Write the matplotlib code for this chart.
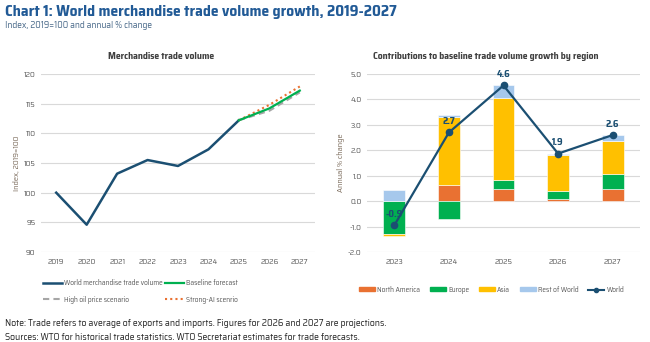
import numpy as np
import matplotlib; matplotlib.use("Agg")
import matplotlib.pyplot as plt
from matplotlib.lines import Line2D
from matplotlib.patches import Patch

plt.rcParams["font.family"] = ["Saira SemiCondensed", "DejaVu Sans"]

# ---------- data ----------
years = ["2019", "2020", "2021", "2022", "2023", "2024", "2025", "2026", "2027"]
world_vol = [100.0, 94.6, 103.2, 105.5, 104.5, 107.3, 112.2]
fc_years = ["2025", "2026", "2027"]
baseline = [112.2, 114.2, 117.2]
high_oil = [112.2, 113.8, 116.9]
strong_ai = [112.2, 114.8, 117.9]

reg_years = ["2023", "2024", "2025", "2026", "2027"]
north_america = [0.0, 0.62, 0.47, 0.10, 0.48]
europe = [-1.30, -0.70, 0.38, 0.28, 0.57]
asia = [-0.08, 2.68, 3.20, 1.42, 1.33]
rest_world = [0.42, 0.10, 0.50, 0.06, 0.22]
world = [-0.95, 2.7, 4.55, 1.87, 2.6]
world_lbl = ["-0.9", "2.7", "4.6", "1.9", "2.6"]

NAVY = "#1b4f72"; GREEN = "#00b050"; ORANGE = "#e97132"; GOLD = "#ffc000"
LBLUE = "#a6c8ec"; GRAY = "#a6a6a6"; TICK = "#595959"; GRID = "#d9d9d9"

fig = plt.figure(figsize=(6.5, 3.42), dpi=100)
H = 342.0
def ax_at(l, r, t, b): return fig.add_axes([l/650, 1-b/H, (r-l)/650, (b-t)/H])

fig.text(5/650, 1-12/H, "Chart 1: World merchandise trade volume growth, 2019-2027",
         color="#215a96", fontsize=11.2, fontweight="bold", va="center")
fig.text(5/650, 1-26/H, "Index, 2019=100 and annual % change", color="#4a6a8a", fontsize=6.8, va="center")

def style(ax):
    for s in ax.spines.values(): s.set_visible(False)
    ax.yaxis.grid(True, color=GRID, lw=0.8); ax.set_axisbelow(True)
    ax.tick_params(length=0, colors=TICK, labelsize=6, pad=4)

# ---------- left panel ----------
ax = ax_at(41, 315, 74, 252)
style(ax)
x = np.arange(len(years))
ax.plot(x[:len(world_vol)], world_vol, color=NAVY, lw=1.8)
xf = x[len(world_vol)-1:]
ax.plot(xf, high_oil, color=GRAY, lw=1.5, ls=(0, (3, 2)))
ax.plot(xf, strong_ai, color=ORANGE, lw=1.5, ls=(0, (1, 1.5)))
ax.plot(xf, baseline, color=GREEN, lw=1.6)
ax.set_xlim(-0.5, len(years)-0.5); ax.set_ylim(90, 120)
ax.set_xticks(x); ax.set_xticklabels(years)
ax.set_yticks(range(90, 121, 5))
ax.set_ylabel("Index, 2019=100", color="#7a6a5a", fontsize=6, labelpad=2)
ax.set_title("Merchandise trade volume", fontsize=7, color="#404040", fontweight="bold", pad=11, x=0.44)

h_left = [Line2D([], [], color=NAVY, lw=1.8), Line2D([], [], color=GREEN, lw=1.6),
          Line2D([], [], color=GRAY, lw=1.5, ls=(0, (3, 2))), Line2D([], [], color=ORANGE, lw=1.5, ls=(0, (1, 1.5)))]
l_left = ["World merchandise trade volume", "Baseline forecast", "High oil price scenario", "Strong-AI scenrio"]
fig.legend(h_left[0::2] + h_left[1::2], l_left[0::2] + l_left[1::2], ncol=2, frameon=False, fontsize=5.3,
           loc="center left", bbox_to_anchor=(36/650, 1-291.5/H), handlelength=2.6, columnspacing=0.3,
           handletextpad=0.3, labelspacing=1.1, labelcolor=TICK)

# ---------- right panel ----------
ax2 = ax_at(367, 640, 74, 252)
style(ax2)
xr = np.arange(len(reg_years)); w = 0.4
na = np.array(north_america); eu = np.array(europe); asi = np.array(asia); rw = np.array(rest_world)
series = [(na, ORANGE), (eu, GREEN), (asi, GOLD), (rw, LBLUE)]
pos = np.zeros(len(xr)); neg = np.zeros(len(xr))
for vals, c in series:
    base = np.where(vals >= 0, pos, neg)
    ax2.bar(xr, vals, w, bottom=base, color=c, edgecolor="white", lw=0.4)
    pos = pos + np.clip(vals, 0, None); neg = neg + np.clip(vals, None, 0)
ax2.plot(xr, world, color=NAVY, lw=1.6, marker="o", ms=4.5)
for xi, v, t in zip(xr, world, world_lbl):
    ax2.text(xi, v + 0.43, t, ha="center", va="center", color=NAVY, fontsize=7, fontweight="bold")
ax2.set_xlim(-0.5, len(reg_years)-0.5); ax2.set_ylim(-2, 5)
ax2.set_xticks(xr); ax2.set_xticklabels(reg_years)
ax2.set_yticks(range(-2, 6)); ax2.set_yticklabels([f"{v:.1f}" for v in range(-2, 6)])
ax2.set_ylabel("Annual % change", color="#7a6a5a", fontsize=6, labelpad=2)
ax2.set_title("Contributions to baseline trade volume growth by region", fontsize=7, color="#404040",
              fontweight="bold", pad=11, x=0.434)

h_right = [Patch(color=ORANGE), Patch(color=GREEN), Patch(color=GOLD), Patch(color=LBLUE),
           Line2D([], [], color=NAVY, lw=1.5, marker="o", ms=3)]
fig.legend(h_right, ["North America", "Europe", "Asia", "Rest of World", "World"], ncol=5, frameon=False,
           fontsize=5.3, loc="center left", bbox_to_anchor=(352/650, 1-290/H), handlelength=2.2,
           handleheight=0.5, columnspacing=1.3, handletextpad=0.3, labelcolor=TICK)

fig.text(5/650, 1-324/H, "Note: Trade refers to average of exports and imports. Figures for 2026 and 2027 are projections.",
         fontsize=7, color="#262626", va="center")
fig.text(5/650, 1-337/H, "Sources: WTO for historical trade statistics. WTO Secretariat estimates for trade forecasts.",
         fontsize=7, color="#262626", va="center")

fig.savefig("out.png", dpi=100)
